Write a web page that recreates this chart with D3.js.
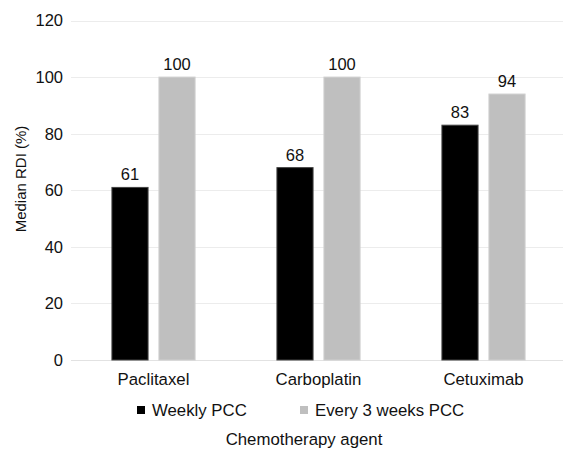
<!DOCTYPE html>
<html>
<head>
<meta charset="utf-8">
<script src="https://cdn.jsdelivr.net/npm/d3@7"></script>
<style>
  html, body { margin: 0; padding: 0; background: #fff; }
  svg { display: block; font-family: "Liberation Sans", Arial, Helvetica, sans-serif; }
</style>
</head>
<body>
<svg id="chart" width="563" height="449"></svg>
<script>
const categories = ["Paclitaxel", "Carboplatin", "Cetuximab"];
const seriesNames = ["Weekly PCC", "Every 3 weeks PCC"];
const weeklyValues = [61, 68, 83];
const every3Values = [100, 100, 94];
const yTicks = [0, 20, 40, 60, 80, 100, 120];
const colors = ["#000000", "#bfbfbf"];
const strokes = ["#444444", "#cfcfcf"];

const svg = d3.select("#chart");
const plotLeft = 71, plotRight = 566, plotTop = 20.5, plotBottom = 360;

const y = d3.scaleLinear().domain([0, 120]).range([plotBottom, plotTop]);
const x0 = d3.scaleBand().domain(categories).range([plotLeft, plotRight])
  .paddingInner(0.49).paddingOuter(0.245);
const x1 = d3.scaleBand().domain(seriesNames).range([0, x0.bandwidth()])
  .paddingInner(0.21).paddingOuter(0);

// gridlines
svg.append("g").selectAll("line").data(yTicks).join("line")
  .attr("x1", plotLeft).attr("x2", 563)
  .attr("y1", d => Math.round(y(d)) + 0.5).attr("y2", d => Math.round(y(d)) + 0.5)
  .attr("stroke", d => d === 0 ? "#e2e2e2" : "#ececec").attr("stroke-width", 1);

// y tick labels
svg.append("g").selectAll("text").data(yTicks).join("text")
  .attr("x", 63).attr("y", d => y(d)).attr("dy", "0.36em")
  .attr("text-anchor", "end").attr("font-size", "16.5px").attr("fill", "#111")
  .text(d => d);

const data = categories.map((c, i) => ({cat: c, vals: [weeklyValues[i], every3Values[i]]}));

const groups = svg.append("g").selectAll("g").data(data).join("g")
  .attr("transform", d => `translate(${x0(d.cat)},0)`);

groups.selectAll("rect").data(d => d.vals.map((v, j) => ({s: seriesNames[j], v, j}))).join("rect")
  .attr("x", d => x1(d.s) + 0.5).attr("width", x1.bandwidth() - 1)
  .attr("y", d => y(d.v)).attr("height", d => y(0) - y(d.v))
  .attr("fill", d => colors[d.j]).attr("stroke", d => strokes[d.j]).attr("stroke-width", 1);

groups.selectAll("text").data(d => d.vals.map((v, j) => ({s: seriesNames[j], v, j}))).join("text")
  .attr("x", d => x1(d.s) + x1.bandwidth() / 2).attr("y", d => y(d.v) - 7)
  .attr("text-anchor", "middle").attr("font-size", "16.5px").attr("fill", "#111")
  .text(d => d.v);

// category labels
svg.append("g").selectAll("text").data(categories).join("text")
  .attr("x", d => x0(d) + x0.bandwidth() / 2).attr("y", 384.5)
  .attr("text-anchor", "middle").attr("font-size", "16.8px").attr("fill", "#111")
  .text(d => d);

// legend
const legendX = [137, 300];
const leg = svg.append("g").selectAll("g").data(seriesNames).join("g")
  .attr("transform", (d, i) => `translate(${legendX[i]},406)`);
leg.append("rect").attr("width", 8).attr("height", 8).attr("fill", (d, i) => colors[i]);
leg.append("text").attr("x", 15).attr("y", 10).attr("font-size", "16.8px").attr("fill", "#111").text(d => d);

// axis titles
svg.append("text").attr("x", 304).attr("y", 445).attr("text-anchor", "middle")
  .attr("font-size", "16.8px").attr("fill", "#111").text("Chemotherapy agent");
svg.append("text").attr("transform", "translate(26,179) rotate(-90)")
  .attr("text-anchor", "middle").attr("font-size", "15px").attr("fill", "#111")
  .text("Median RDI (%)");
</script>
</body>
</html>
